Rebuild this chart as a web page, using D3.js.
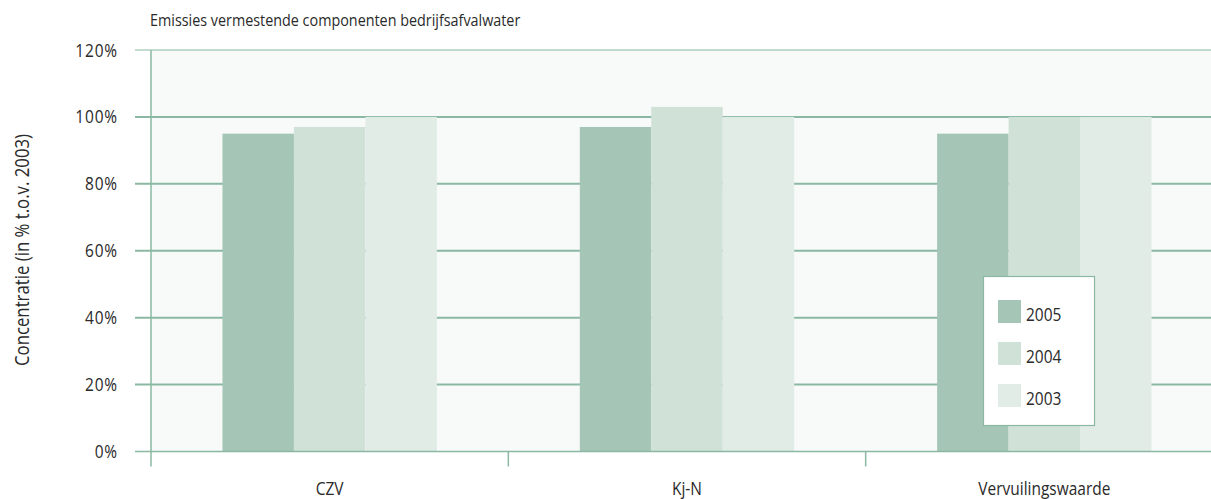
<!DOCTYPE html>
<html>
<head>
<meta charset="utf-8">
<script src="https://cdn.jsdelivr.net/npm/d3@7"></script>
<style>
  html, body { margin: 0; padding: 0; background: #ffffff; }
  svg { display: block; }
  text { font-family: "Open Sans", "Noto Sans", sans-serif; font-weight: 400; fill: #2a2a2a; }
</style>
</head>
<body>
<svg id="chart" width="1211" height="499"></svg>
<script>
// Emissions of eutrophying components in industrial waste water, relative to 2003
const categories = ["CZV", "Kj-N", "Vervuilingswaarde"];
const years = ["2005", "2004", "2003"];
const values2005 = [95, 97, 95];
const values2004 = [97, 103, 100];
const values2003 = [100, 100, 100];
const yTicks = [0, 20, 40, 60, 80, 100, 120];
const yearColors = ["#a5c6b6", "#d0e1d8", "#e1ece7"];

const seriesByYear = [values2005, values2004, values2003];

const svg = d3.select("#chart");
const plotLeft = 151, plotRight = 1223, plotTop = 50, plotBottom = 451.5;
const condense = 0.86; // narrow lettering

const x = d3.scaleBand().domain(categories).range([plotLeft, plotRight]).paddingInner(0).paddingOuter(0);
const xInner = d3.scaleBand().domain(years).range([0, x.bandwidth()]).paddingInner(0).paddingOuter(1);
const y = d3.scaleLinear().domain([0, 120]).range([plotBottom, plotTop]);

const grid = "#8ab8a2";

// place a text element at (tx, ty), optionally rotated, horizontally condensed
function placeText(sel, tx, ty, rot) {
  sel.attr("x", 0).attr("y", 0)
    .attr("transform", (d, i) => {
      const px = typeof tx === "function" ? tx(d, i) : tx;
      const py = typeof ty === "function" ? ty(d, i) : ty;
      return `translate(${px},${py})` + (rot ? ` rotate(${rot})` : "") + ` scale(${condense},1)`;
    });
  return sel;
}

// plot background
svg.append("rect")
  .attr("x", plotLeft).attr("y", y(120))
  .attr("width", plotRight - plotLeft).attr("height", y(0) - y(120))
  .attr("fill", "#f8fafa");

// horizontal gridlines
svg.append("g").selectAll("line")
  .data(yTicks.filter(t => t > 0))
  .join("line")
  .attr("x1", 135).attr("x2", plotRight)
  .attr("y1", d => y(d)).attr("y2", d => y(d))
  .attr("stroke", grid)
  .attr("stroke-width", d => d === 120 ? 1.2 : 2);

// bars
const groups = svg.append("g").selectAll("g")
  .data(categories)
  .join("g")
  .attr("transform", d => `translate(${x(d)},0)`);

groups.selectAll("rect")
  .data((c, ci) => years.map((yr, yi) => ({ yr, yi, v: seriesByYear[yi][ci] })))
  .join("rect")
  .attr("x", d => xInner(d.yr))
  .attr("width", xInner.bandwidth())
  .attr("y", d => y(d.v))
  .attr("height", d => y(0) - y(d.v))
  .attr("fill", d => yearColors[d.yi]);

// baseline and vertical axis
svg.append("line")
  .attr("x1", 135).attr("x2", plotRight)
  .attr("y1", y(0)).attr("y2", y(0))
  .attr("stroke", grid).attr("stroke-width", 1.5);

svg.append("line")
  .attr("x1", plotLeft).attr("x2", plotLeft)
  .attr("y1", y(120)).attr("y2", y(0) + 15)
  .attr("stroke", grid).attr("stroke-width", 1.5);

// category separators
svg.append("g").selectAll("line")
  .data(categories.slice(1))
  .join("line")
  .attr("x1", d => x(d)).attr("x2", d => x(d))
  .attr("y1", y(0)).attr("y2", y(0) + 15)
  .attr("stroke", grid).attr("stroke-width", 1.5);

// y tick labels
svg.append("g").selectAll("text")
  .data(yTicks)
  .join("text")
  .call(placeText, 118, d => y(d) + 6.5)
  .attr("text-anchor", "end")
  .attr("font-size", 18)
  .attr("letter-spacing", 1)
  .text(d => d + "%");

// category labels
svg.append("g").selectAll("text")
  .data(categories)
  .join("text")
  .call(placeText, d => x(d) + x.bandwidth() / 2, 495)
  .attr("text-anchor", "middle")
  .attr("font-size", 18)
  .text(d => d);

// title
svg.append("text")
  .call(placeText, 150, 26)
  .attr("font-size", 16.7)
  .text("Emissies vermestende componenten bedrijfsafvalwater");

// y axis title
svg.append("text")
  .call(placeText, 29, 250, -90)
  .attr("text-anchor", "middle")
  .attr("font-size", 19.5)
  .text("Concentratie (in % t.o.v. 2003)");

// legend
const legend = svg.append("g").attr("transform", "translate(983,276)");
legend.append("rect")
  .attr("x", 0.5).attr("y", 0.5)
  .attr("width", 111).attr("height", 149)
  .attr("fill", "#ffffff")
  .attr("stroke", grid).attr("stroke-width", 1.2);

const items = legend.selectAll("g.item")
  .data(years)
  .join("g")
  .attr("class", "item")
  .attr("transform", (d, i) => `translate(15,${24 + i * 42})`);
items.append("rect")
  .attr("width", 23).attr("height", 23)
  .attr("fill", (d, i) => yearColors[i]);
items.append("text")
  .call(placeText, 28, 20.5)
  .attr("font-size", 18)
  .text(d => d);
</script>
</body>
</html>
